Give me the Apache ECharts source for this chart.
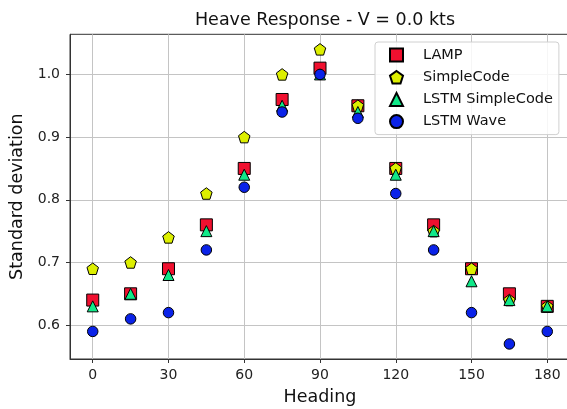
<!DOCTYPE html>
<html>
<head>
<meta charset="utf-8">
<script src="https://cdn.jsdelivr.net/npm/echarts@6/dist/echarts.min.js"></script>
<style>html,body{margin:0;padding:0;background:#fff;}#c{width:567px;height:409px;}</style>
</head>
<body>
<div id="c"></div>
<script>
const headings = [0, 15, 30, 45, 60, 75, 90, 105, 120, 135, 150, 165, 180];
const lamp = [0.64, 0.65, 0.69, 0.76, 0.85, 0.96, 1.01, 0.95, 0.85, 0.76, 0.69, 0.65, 0.63];
const simpleCode = [0.69, 0.70, 0.74, 0.81, 0.90, 1.00, 1.04, 0.95, 0.85, 0.75, 0.69, 0.64, 0.63];
const lstmSimpleCode = [0.63, 0.65, 0.68, 0.75, 0.84, 0.95, 1.00, 0.94, 0.84, 0.75, 0.67, 0.64, 0.63];
const lstmWave = [0.59, 0.61, 0.62, 0.72, 0.82, 0.94, 1.00, 0.93, 0.81, 0.72, 0.62, 0.57, 0.59];
const xTicks = [0, 30, 60, 90, 120, 150, 180];
const yTicks = [0.6, 0.7, 0.8, 0.9, 1.0];

const FONT = 'DejaVu Sans';
const pentagon = 'path://M0,-1L0.951,-0.309L0.588,0.809L-0.588,0.809L-0.951,-0.309Z';
const pair = ys => headings.map((h, i) => [h, ys[i]]);
const near = (v, list) => list.some(t => Math.abs(v - t) < 1e-6);

const chart = echarts.init(document.getElementById('c'), null, {renderer: 'canvas'});
const mk = (name, data, symbol, size, color) => ({
  name, type: 'scatter', data: pair(data), symbol, symbolSize: size, clip: false,
  itemStyle: {color, borderColor: '#000', borderWidth: 1, opacity: 1},
  emphasis: {disabled: true}
});
chart.setOption({
  animation: false,
  backgroundColor: '#fff',
  title: {
    text: 'Heave Response - V = 0.0 kts', left: 320, top: 6, textAlign: 'center',
    textStyle: {fontFamily: FONT, fontSize: 17.5, fontWeight: 'normal', color: '#111'}
  },
  grid: {
    left: 70, top: 34.3, right: -3, bottom: 50, containLabel: false, outerBoundsMode: 'none',
    show: true, borderColor: '#333', borderWidth: 1
  },
  xAxis: {
    type: 'value', min: -9, max: 189, splitNumber: 6,
    name: 'Heading', nameLocation: 'middle', nameGap: 29,
    nameTextStyle: {fontFamily: FONT, fontSize: 17.5, color: '#111'},
    axisLine: {show: true, onZero: false, lineStyle: {color: '#333', width: 1}},
    axisTick: {show: true, length: 4, lineStyle: {color: '#333'}},
    axisLabel: {
      fontFamily: FONT, fontSize: 14, color: '#222', margin: 9,
      showMinLabel: false, showMaxLabel: false,
      formatter: v => near(v, xTicks) ? String(Math.round(v)) : ''
    },
    splitLine: {show: true, showMinLine: false, showMaxLine: false, lineStyle: {color: '#c4c4c4', width: 1}}
  },
  yAxis: {
    type: 'value', min: 0.546, max: 1.064, splitNumber: 5,
    name: 'Standard deviation', nameLocation: 'middle', nameGap: 40, nameRotate: 90,
    nameTextStyle: {fontFamily: FONT, fontSize: 17.5, color: '#111'},
    axisLine: {show: true, onZero: false, lineStyle: {color: '#333', width: 1}},
    axisTick: {show: true, length: 4, lineStyle: {color: '#333'}},
    axisLabel: {
      fontFamily: FONT, fontSize: 14, color: '#222', margin: 10,
      showMinLabel: false, showMaxLabel: false,
      formatter: v => near(v, yTicks) ? v.toFixed(1) : ''
    },
    splitLine: {show: true, showMinLine: false, showMaxLine: false, lineStyle: {color: '#c4c4c4', width: 1}}
  },
  legend: {
    orient: 'vertical', left: 375, top: 42,
    padding: [5.5, 6, 5.5, 14], itemWidth: 13, itemHeight: 13, itemGap: 7.2,
    backgroundColor: 'rgba(255,255,255,0.85)', borderColor: '#d0d0d0', borderWidth: 1, borderRadius: 3,
    textStyle: {fontFamily: FONT, fontSize: 14.5, color: '#111', padding: [0, 0, 0, 15]},
    data: ['LAMP', 'SimpleCode', 'LSTM SimpleCode', 'LSTM Wave']
  },
  series: [
    mk('LAMP', lamp, 'rect', 12, '#f0102f'),
    mk('SimpleCode', simpleCode, pentagon, 11.5, '#ddef00'),
    mk('LSTM SimpleCode', lstmSimpleCode, 'triangle', 11, '#10e888'),
    mk('LSTM Wave', lstmWave, 'circle', 10.5, '#0a22e8')
  ]
});
</script>
</body>
</html>
